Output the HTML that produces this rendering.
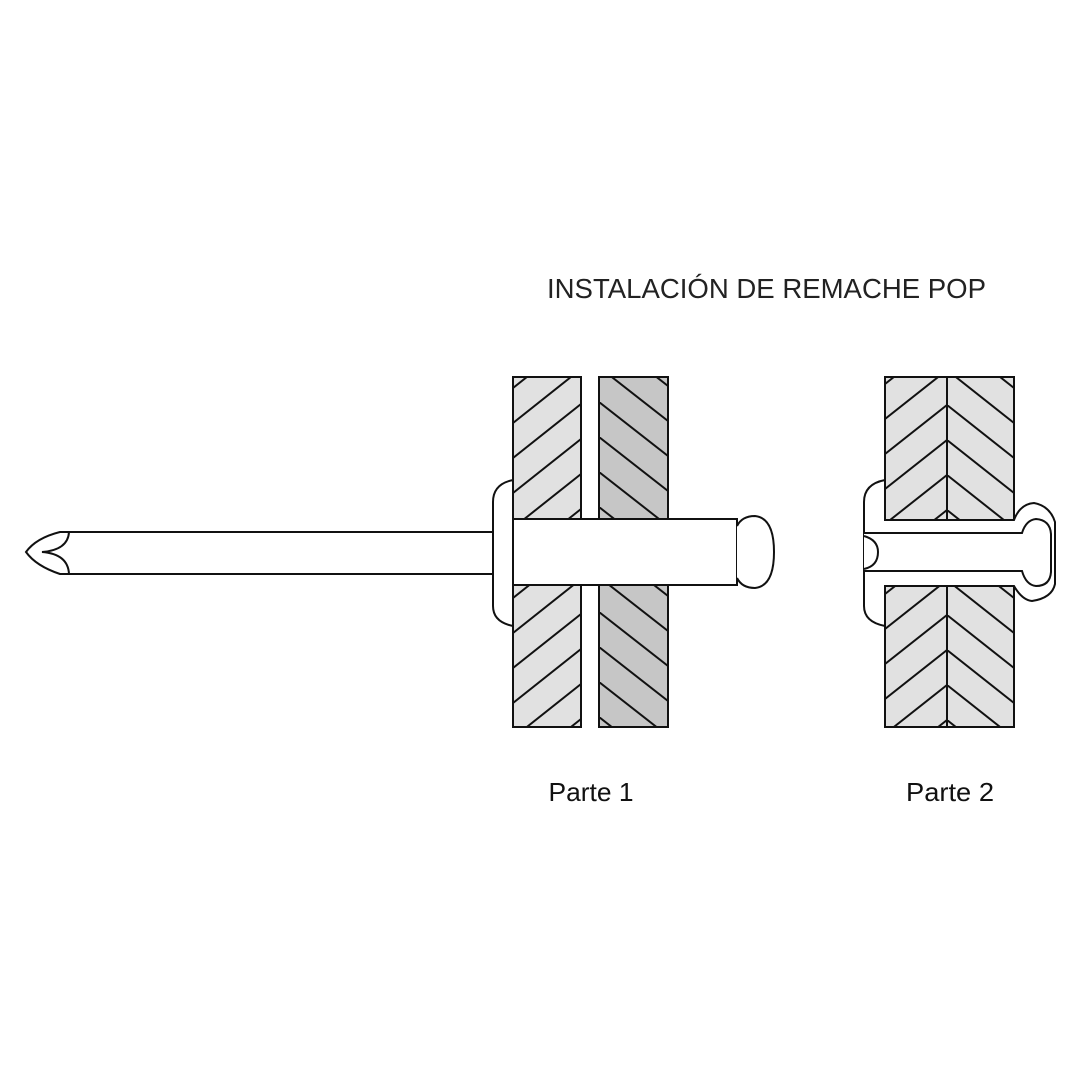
<!DOCTYPE html>
<html><head><meta charset="utf-8"><style>
html,body{margin:0;padding:0;background:#fff}
svg{display:block}
text{font-family:"Liberation Sans",sans-serif;fill:#111}
</style></head><body>
<svg width="1080" height="1080" viewBox="0 0 1080 1080" xmlns="http://www.w3.org/2000/svg">
<defs>
<pattern id="upA" patternUnits="userSpaceOnUse" x="513" y="388" width="68" height="35">
<rect width="68" height="35" fill="#e1e1e1"/>
<g stroke="#111" stroke-width="2"><line x1="0" y1="0" x2="68" y2="-54"/><line x1="0" y1="35" x2="68" y2="-19"/><line x1="0" y1="70" x2="68" y2="16"/></g>
</pattern>
<pattern id="dnB" patternUnits="userSpaceOnUse" x="599" y="402" width="69" height="35">
<rect width="69" height="35" fill="#c6c6c6"/>
<g stroke="#111" stroke-width="2"><line x1="0" y1="0" x2="69" y2="54"/><line x1="0" y1="-35" x2="69" y2="19"/><line x1="0" y1="-70" x2="69" y2="-16"/></g>
</pattern>
<pattern id="upC" patternUnits="userSpaceOnUse" x="885" y="454" width="62" height="35">
<rect width="62" height="35" fill="#e1e1e1"/>
<g stroke="#111" stroke-width="2"><line x1="0" y1="0" x2="62" y2="-49"/><line x1="0" y1="35" x2="62" y2="-14"/><line x1="0" y1="70" x2="62" y2="21"/></g>
</pattern>
<pattern id="dnD" patternUnits="userSpaceOnUse" x="947" y="405" width="67" height="35">
<rect width="67" height="35" fill="#e1e1e1"/>
<g stroke="#111" stroke-width="2"><line x1="0" y1="0" x2="67" y2="53"/><line x1="0" y1="-35" x2="67" y2="18"/><line x1="0" y1="-70" x2="67" y2="-17"/></g>
</pattern>
</defs>

<text x="547" y="298" font-size="28" textLength="439" lengthAdjust="spacingAndGlyphs" style="fill:#222">INSTALACIÓN DE REMACHE POP</text>

<rect x="513" y="377" width="68" height="350" fill="url(#upA)" stroke="#111" stroke-width="2"/>
<rect x="599" y="377" width="69" height="350" fill="url(#dnB)" stroke="#111" stroke-width="2"/>

<path d="M493 532 L60 532 Q36 538 26 552 Q36 566 60 574 L493 574" fill="#fff" stroke="#111" stroke-width="2"/>
<path d="M69 532 Q68 550 42 552 Q68 554 69 574" fill="none" stroke="#111" stroke-width="2"/>
<path d="M513 480 Q493 484 493 502 L493 606 Q493 622 513 626 Z" fill="#fff" stroke="#111" stroke-width="2"/>
<rect x="513" y="519" width="224" height="66" fill="#fff" stroke="#111" stroke-width="2"/>
<path d="M737 526 Q742 516 755 516 Q774 518 774 552 Q774 586 755 588 Q742 588 737 578" fill="#fff" stroke="#111" stroke-width="2"/>

<rect x="885" y="377" width="62" height="143" fill="url(#upC)"/>
<rect x="947" y="377" width="67" height="143" fill="url(#dnD)"/>
<rect x="885" y="586" width="62" height="141" fill="url(#upC)"/>
<rect x="947" y="586" width="67" height="141" fill="url(#dnD)"/>
<g fill="none" stroke="#111" stroke-width="2">
<rect x="885" y="377" width="129" height="143"/>
<rect x="885" y="586" width="129" height="141"/>
<line x1="947" y1="377" x2="947" y2="520"/>
<line x1="947" y1="586" x2="947" y2="727"/>
</g>
<path d="M885 480 Q864 484 864 502 L864 606 Q864 622 885 626 L885 586 L1014 586 Q1022 600 1032 601 Q1052 598 1055 584 L1055 522 Q1050 506 1034 503 Q1020 504 1014 520 L885 520 Z" fill="#fff" stroke="#111" stroke-width="2"/>
<path d="M864 533 L1022 533 Q1026 520 1036 519 Q1050 520 1051 534 L1051 572 Q1050 586 1036 586 Q1026 585 1022 571 L864 571" fill="#fff" stroke="#111" stroke-width="2"/>
<path d="M864 536 Q878 540 878 552 Q878 566 864 569" fill="#fff" stroke="#111" stroke-width="2"/>

<text x="591" y="801" font-size="26" text-anchor="middle" textLength="85" lengthAdjust="spacingAndGlyphs">Parte 1</text>
<text x="950" y="801" font-size="26" text-anchor="middle" textLength="88" lengthAdjust="spacingAndGlyphs">Parte 2</text>
</svg>
</body></html>
